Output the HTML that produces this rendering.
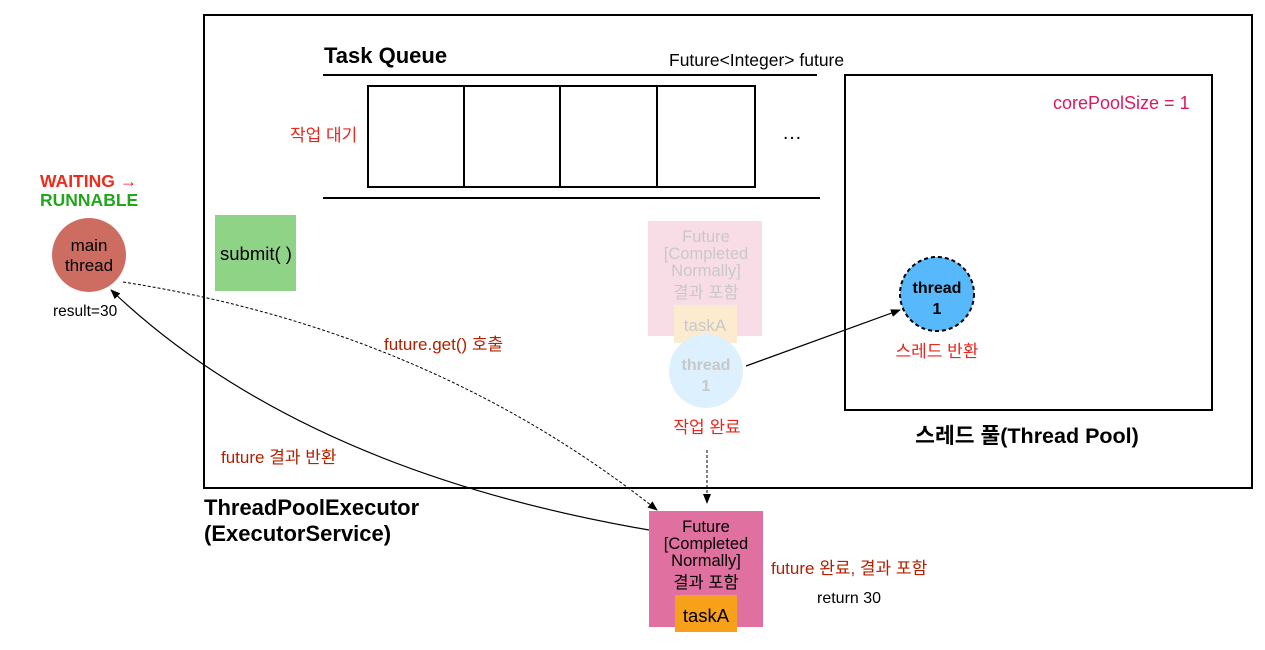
<!DOCTYPE html>
<html><head><meta charset="utf-8"><style>
html,body{margin:0;padding:0;background:#fff;}
svg{display:block;font-family:"Liberation Sans","Noto Sans CJK KR",sans-serif;}
</style></head><body>
<svg width="1265" height="650" viewBox="0 0 1265 650" xmlns="http://www.w3.org/2000/svg">
<defs>
<marker id="ah" markerWidth="10" markerHeight="8" refX="9" refY="4" orient="auto" markerUnits="userSpaceOnUse"><path d="M0,0 L10,4 L0,8 Z" fill="#000"/></marker>
</defs>
<rect x="204" y="15" width="1048" height="473" fill="none" stroke="#000" stroke-width="2"/>
<text x="324" y="63" font-size="22" font-weight="bold">Task Queue</text>
<text x="669" y="66" font-size="17.5">Future&lt;Integer&gt; future</text>
<line x1="323" y1="75" x2="817" y2="75" stroke="#000" stroke-width="2"/>
<line x1="323" y1="198" x2="820" y2="198" stroke="#000" stroke-width="2"/>
<rect x="368" y="86" width="387" height="101" fill="none" stroke="#000" stroke-width="2"/>
<line x1="464" y1="86" x2="464" y2="187" stroke="#000" stroke-width="2"/>
<line x1="560" y1="86" x2="560" y2="187" stroke="#000" stroke-width="2"/>
<line x1="657" y1="86" x2="657" y2="187" stroke="#000" stroke-width="2"/>
<text x="290" y="141" font-size="17" fill="#e8261c">작업 대기</text>
<text x="782" y="139" font-size="20">…</text>
<rect x="845" y="75" width="367" height="335" fill="none" stroke="#000" stroke-width="2"/>
<text x="1053" y="109" font-size="18" fill="#d81b60">corePoolSize = 1</text>
<circle cx="937" cy="294" r="37" fill="#57b9fb" stroke="#000" stroke-width="2" stroke-dasharray="4,3"/>
<text x="937" y="293" font-size="16" font-weight="bold" text-anchor="middle">thread</text>
<text x="937" y="314" font-size="16" font-weight="bold" text-anchor="middle">1</text>
<text x="937" y="357" font-size="17" text-anchor="middle" fill="#e8261c">스레드 반환</text>
<text x="1027" y="443" font-size="21.5" font-weight="bold" text-anchor="middle">스레드 풀(Thread Pool)</text>
<rect x="215" y="215" width="81" height="76" fill="#8fd486"/>
<text x="256" y="260" font-size="18.5" text-anchor="middle">submit( )</text>
<text x="40" y="187" font-size="17.5" font-weight="bold" fill="#ef2b1c">WAITING →</text>
<text x="40" y="206" font-size="17.5" font-weight="bold" fill="#22a61c">RUNNABLE</text>
<circle cx="89" cy="255" r="37" fill="#cd6d62"/>
<text x="89" y="251" font-size="17" text-anchor="middle">main</text>
<text x="89" y="271" font-size="17" text-anchor="middle">thread</text>
<text x="53" y="316" font-size="15.5">result=30</text>
<rect x="648" y="221" width="114" height="115" fill="#f9dde6"/>
<g fill="#c8c8c8" font-size="16.5" text-anchor="middle">
<text x="706" y="242">Future</text>
<text x="706" y="259">[Completed</text>
<text x="706" y="276">Normally]</text>
<text x="706" y="298">결과 포함</text>
</g>
<rect x="674" y="305" width="63" height="38" fill="#fdebd0"/>
<circle cx="706" cy="371" r="37" fill="#dcf0fd"/>
<text x="705" y="331" font-size="17" fill="#c8c8c8" text-anchor="middle">taskA</text>
<text x="706" y="370" font-size="16" fill="#c8c8c8" text-anchor="middle" font-weight="bold">thread</text>
<text x="706" y="391" font-size="16" fill="#c8c8c8" text-anchor="middle" font-weight="bold">1</text>
<text x="707" y="433" font-size="17" fill="#e8261c" text-anchor="middle">작업 완료</text>
<line x1="746" y1="366" x2="900" y2="310" stroke="#000" stroke-width="1.2" marker-end="url(#ah)"/>
<line x1="707" y1="450" x2="707" y2="503" stroke="#000" stroke-width="1" stroke-dasharray="3,2" marker-end="url(#ah)"/>
<path d="M123,282 Q430,330 657,510" fill="none" stroke="#000" stroke-width="1" stroke-dasharray="3,2" marker-end="url(#ah)"/>
<path d="M649,530 Q300,470 111,290" fill="none" stroke="#000" stroke-width="1.2" marker-end="url(#ah)"/>
<rect x="649" y="511" width="114" height="116" fill="#e070a0"/>
<g font-size="16.5" text-anchor="middle">
<text x="706" y="532">Future</text>
<text x="706" y="549">[Completed</text>
<text x="706" y="566">Normally]</text>
<text x="706" y="588">결과 포함</text>
</g>
<rect x="675" y="595" width="62" height="37" fill="#f7a01a"/>
<text x="706" y="622" font-size="18.5" text-anchor="middle">taskA</text>
<text x="771" y="574" font-size="17" fill="#b22000">future 완료, 결과 포함</text>
<text x="817" y="603" font-size="16">return 30</text>
<text x="384" y="350" font-size="17" fill="#b22000">future.get() 호출</text>
<text x="221" y="463" font-size="17" fill="#b22000">future 결과 반환</text>
<text x="204" y="515" font-size="22" font-weight="bold">ThreadPoolExecutor</text>
<text x="204" y="541" font-size="22" font-weight="bold">(ExecutorService)</text>
</svg>
</body></html>
